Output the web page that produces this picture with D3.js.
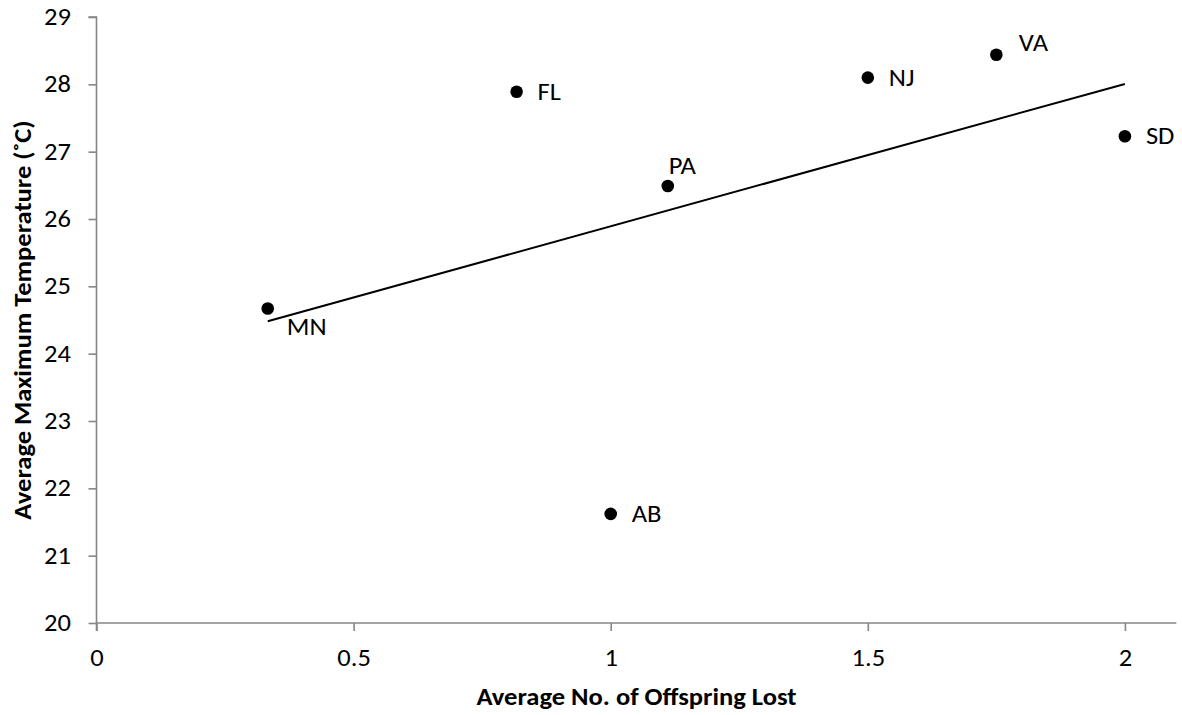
<!DOCTYPE html>
<html>
<head>
<meta charset="utf-8">
<script src="https://cdn.jsdelivr.net/npm/d3@7"></script>
<style>
  html, body { margin: 0; padding: 0; background: #fff; }
  svg { display: block; }
  text { font-family: Carlito, "Open Sans", sans-serif; fill: #000; }
</style>
</head>
<body>
<svg id="chart" width="1182" height="715"></svg>
<script>
// Site codes and their averages
const sites = ["MN", "FL", "PA", "AB", "NJ", "VA", "SD"];
const offspringLost = [0.333, 0.817, 1.111, 1.0, 1.5, 1.75, 2.0];
const maxTemp = [24.67, 27.89, 26.49, 21.62, 28.10, 28.44, 27.23];
// Where each site label sits relative to its point
const labelPlacement = ["below", "right", "above", "right", "right", "aboveRight", "right"];

const xTicks = [0, 0.5, 1, 1.5, 2];
const yTicks = [20, 21, 22, 23, 24, 25, 26, 27, 28, 29];

const FONT = "Carlito, 'Open Sans', sans-serif";
const FONT_SIZE = 23.5;
const WIDEN = 1.13;            // slightly wide lettering
const svg = d3.select("#chart");
const plotLeft = 96.5, plotTop = 17, plotBottom = 623;

const x = d3.scaleLinear().domain([0, 2.1]).range([plotLeft, plotLeft + 2.1 * 514.2]);
const y = d3.scaleLinear().domain([20, 29]).range([plotBottom, plotTop]);

const axisColor = "#868686";

// Y axis
const yAxis = svg.append("g")
  .attr("transform", `translate(${x(0)},0)`)
  .call(d3.axisLeft(y).tickValues(yTicks).tickSize(8).tickFormat(d3.format("d")));
yAxis.selectAll("path, line").attr("stroke", axisColor).attr("stroke-width", 1.6);
yAxis.select(".domain").attr("d", `M-8,${y(29)}H0V${y(20)}`);
yAxis.selectAll("text")
  .attr("font-size", FONT_SIZE).attr("font-family", FONT)
  .attr("x", 0).attr("dy", "0.32em")
  .attr("transform", `translate(-25.5,0) scale(${WIDEN},1)`);

// X axis
const xAxis = svg.append("g")
  .attr("transform", `translate(0,${y(20)})`)
  .call(d3.axisBottom(x).tickValues(xTicks).tickSize(8).tickFormat(d => d3.format("")(d)));
xAxis.selectAll("path, line").attr("stroke", axisColor).attr("stroke-width", 1.6);
xAxis.select(".domain").attr("d", `M${x(0)},8V0H${x(2.1)}`);
xAxis.selectAll("text")
  .attr("font-size", FONT_SIZE).attr("font-family", FONT)
  .attr("y", 0).attr("dy", 0)
  .attr("transform", `translate(0,43) scale(${WIDEN},1)`);

// Linear least-squares trend line over the observed range
const n = sites.length;
const mx = d3.mean(offspringLost), my = d3.mean(maxTemp);
let sxy = 0, sxx = 0;
for (let i = 0; i < n; i++) {
  sxy += (offspringLost[i] - mx) * (maxTemp[i] - my);
  sxx += (offspringLost[i] - mx) ** 2;
}
const slope = sxy / sxx, intercept = my - slope * mx;
const [xmin, xmax] = d3.extent(offspringLost);
svg.append("line")
  .attr("x1", x(xmin)).attr("y1", y(intercept + slope * xmin))
  .attr("x2", x(xmax)).attr("y2", y(intercept + slope * xmax))
  .attr("stroke", "#000").attr("stroke-width", 2);

// Points
svg.append("g").selectAll("circle")
  .data(sites)
  .join("circle")
  .attr("cx", (d, i) => x(offspringLost[i]))
  .attr("cy", (d, i) => y(maxTemp[i]))
  .attr("r", 6.3)
  .attr("fill", "#000");

// Site labels: [dx, baseline dy] from the point centre
const offsets = {
  right: [21, 8],
  below: [19, 26],
  above: [1, -12.5],
  aboveRight: [22.5, -4]
};
svg.append("g").selectAll("text")
  .data(sites)
  .join("text")
  .attr("transform", (d, i) => {
    const o = offsets[labelPlacement[i]];
    return `translate(${x(offspringLost[i]) + o[0]},${y(maxTemp[i]) + o[1]}) scale(${WIDEN},1)`;
  })
  .attr("font-size", FONT_SIZE)
  .text(d => d);

// Axis titles
svg.append("text")
  .attr("transform", `translate(${(x(0) + x(2.1)) / 2},705) scale(${WIDEN},1)`)
  .attr("text-anchor", "middle")
  .attr("font-size", FONT_SIZE)
  .attr("font-weight", "bold")
  .text("Average No. of Offspring Lost");

svg.append("text")
  .attr("transform", `translate(30.5,${(y(20) + y(29)) / 2}) rotate(-90) scale(${WIDEN},1)`)
  .attr("text-anchor", "middle")
  .attr("font-size", FONT_SIZE)
  .attr("font-weight", "bold")
  .text("Average Maximum Temperature (˚C)");
</script>
</body>
</html>
